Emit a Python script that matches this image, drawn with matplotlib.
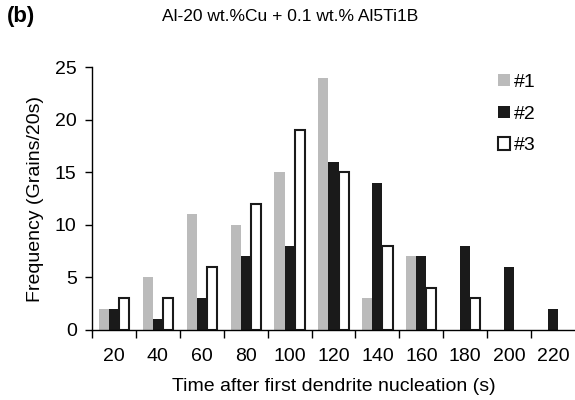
import numpy as np
import matplotlib.pyplot as plt

plt.rcParams['font.family'] = ['Liberation Sans', 'DejaVu Sans']

# Time bins (s) and grain counts for the three runs
times = ['20', '40', '60', '80', '100', '120', '140', '160', '180', '200', '220']
run1 = [2, 5, 11, 10, 15, 24, 3, 7, 0, 0, 0]
run2 = [2, 1, 3, 7, 8, 16, 14, 7, 8, 6, 2]
run3 = [3, 3, 6, 12, 19, 15, 8, 4, 3, 0, 0]

fig = plt.figure(figsize=(5.75, 4), dpi=100)
ax = fig.add_axes([0.16, 0.175, 0.84, 0.6575])

x = np.arange(len(times))
w = 0.23
ax.bar(x - w, run1, w, color='#bbbbbb', label='#1')
ax.bar(x, run2, w, color='#1a1a1a', label='#2')
# outlined bars: skip empty bins so no flat outline is drawn
r3 = np.array(run3)
lw3 = [1.5 if v > 0 else 0 for v in r3]
ax.bar(x + w, r3, w, color='white', edgecolor='#1a1a1a', linewidth=lw3, label='#3')

ax.set_xlim(-0.5, len(times) - 0.5)
ax.set_ylim(0, 25)
ax.set_yticks([0, 5, 10, 15, 20, 25])
ax.set_xticks(x)
ax.set_xticklabels(times)
ax.tick_params(axis='x', length=0, labelsize=14, pad=13)
ax.set_xticks(np.arange(-0.5, len(times) - 0.5), minor=True)
ax.tick_params(axis='x', which='minor', length=6, direction='out', width=1)
ax.tick_params(axis='y', length=5, direction='out', width=1, labelsize=14, pad=6)

for s in ['top', 'right']:
    ax.spines[s].set_visible(False)
ax.spines['left'].set_linewidth(1)
ax.spines['bottom'].set_linewidth(1)

ax.set_xlabel('Time after first dendrite nucleation (s)', fontsize=14, labelpad=9)
ax.set_ylabel('Frequency (Grains/20s)', fontsize=14, labelpad=8)

leg = ax.legend(loc='upper right', frameon=False, fontsize=14, handlelength=0.6,
                handleheight=0.6, handletextpad=0.2, labelspacing=0.75,
                bbox_to_anchor=(0.955, 1.04))
leg.legend_handles[2].set_linewidth(1.5)

fig.text(0.505, 0.958, 'Al-20 wt.%Cu + 0.1 wt.% Al5Ti1B', ha='center', va='center', fontsize=12.5)
fig.text(0.012, 0.958, '(b)', ha='left', va='center', fontsize=16, fontweight='bold')

fig.savefig('out.png', dpi=100)
